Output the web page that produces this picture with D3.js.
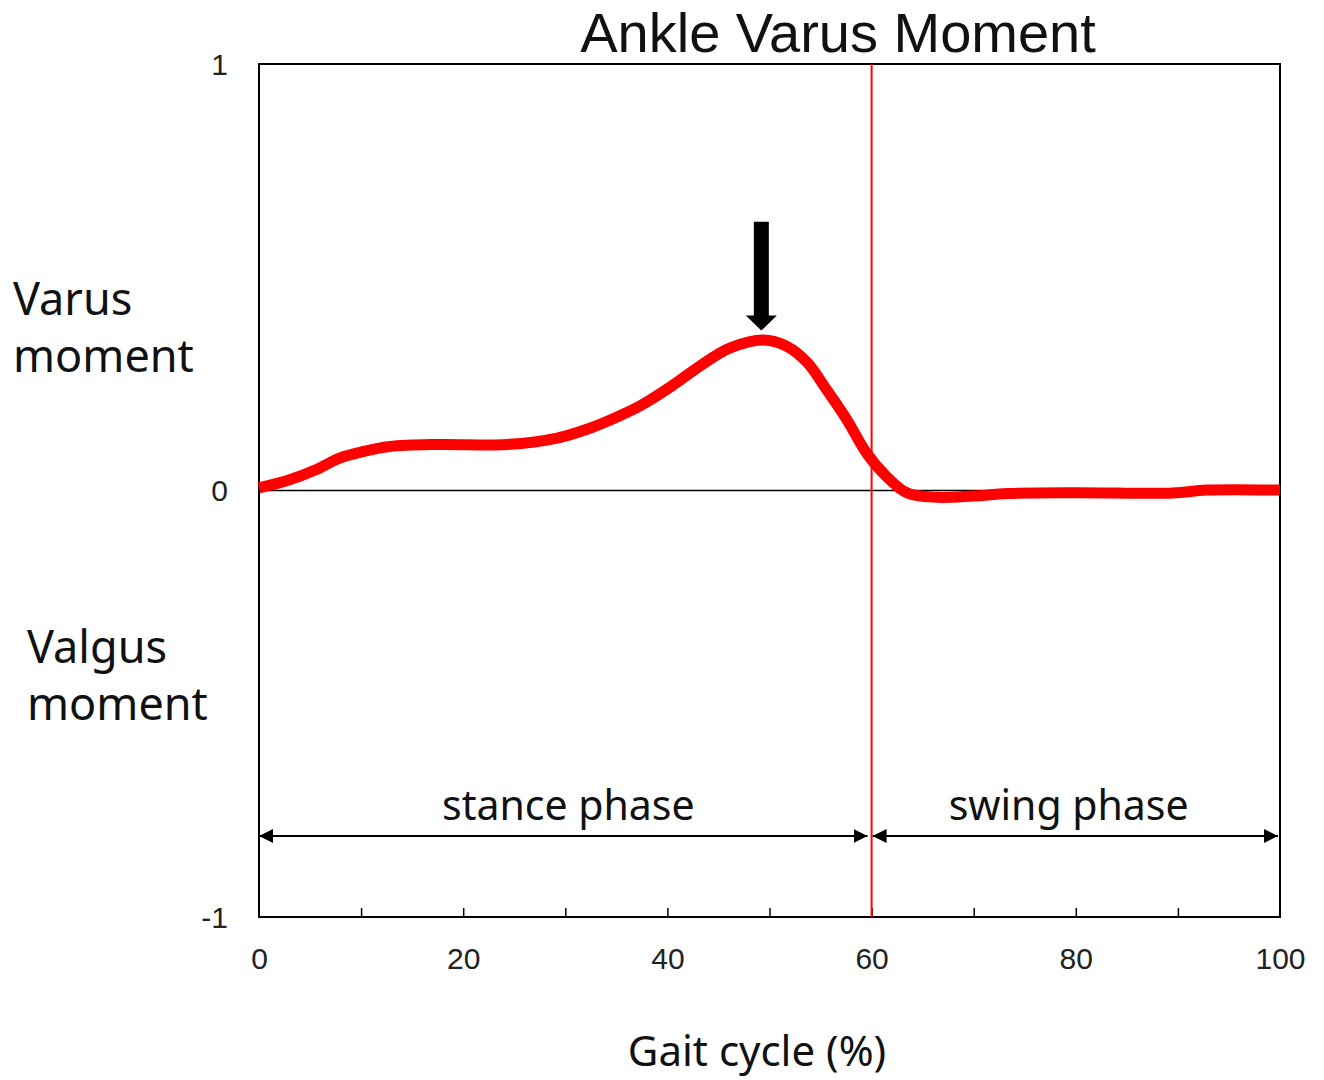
<!DOCTYPE html>
<html>
<head>
<meta charset="utf-8">
<script src="https://cdn.jsdelivr.net/npm/d3@7"></script>
<style>
  body { margin: 0; background: #fff; }
  svg { display: block; }
</style>
</head>
<body>
<div id="chart"></div>
<script>
// gait cycle (%) and ankle varus moment
var gaitPct = [0, 3, 5.5, 7.9, 10, 12.8, 17.7, 24.3, 29.2, 32.4, 35.4, 37.3, 40.3, 43.5, 46.1, 49.4, 51.7, 53.7, 55.6, 57.6, 59.5, 61.5, 63.5, 66.4, 69.9, 73.3, 80, 89.5, 92.8, 100];
var moment = [0.006, 0.025, 0.048, 0.076, 0.09, 0.103, 0.108, 0.108, 0.123, 0.146, 0.176, 0.198, 0.243, 0.297, 0.334, 0.353, 0.338, 0.3, 0.236, 0.165, 0.088, 0.032, -0.006, -0.016, -0.013, -0.007, -0.005, -0.006, 0.001, 0.001];

var xTickLabels = [0, 20, 40, 60, 80, 100];
var xMinorTicks = [10, 20, 30, 40, 50, 60, 70, 80, 90];
var yTickLabels = [-1, 0, 1];

var toeOff = 60;
var phases = ["stance phase", "swing phase"];
var phaseStart = [0, 60.1];
var phaseEnd = [59.6, 99.8];
var phaseLabelAt = [30.3, 79.3];
var phaseLevel = -0.81;

var peakPct = 49.2;
var peakArrowTop = 0.63;
var peakArrowTip = 0.375;

var width = 1324, height = 1080;
var margin = { top: 64, right: 44, bottom: 163, left: 259 };
var w = width - margin.left - margin.right,
  h = height - margin.top - margin.bottom;

var svg = d3.select("#chart").append("svg")
  .attr("width", width)
  .attr("height", height);

var g = svg.append("g")
  .attr("transform", "translate(" + margin.left + "," + margin.top + ")");

var x = d3.scaleLinear().domain([0, 100]).range([0, w]);
var y = d3.scaleLinear().domain([-1, 1]).range([h, 0]);

var tickFont = "'Liberation Sans', Arial, sans-serif";
var labelFont = "'Noto Sans', 'Noto Sans CJK KR', sans-serif";

// minor ticks pointing inwards
var gMinor = g.append("g")
  .attr("transform", "translate(0," + h + ")")
  .call(d3.axisBottom(x).tickValues(xMinorTicks).tickSizeInner(-9).tickSizeOuter(0).tickFormat(""));
gMinor.select(".domain").remove();
gMinor.selectAll("line").attr("stroke", "#000").attr("stroke-width", 1.5);

// x tick labels
var gx = g.append("g")
  .attr("transform", "translate(0," + h + ")")
  .call(d3.axisBottom(x).tickValues(xTickLabels).tickSize(0).tickPadding(31));
gx.select(".domain").remove();
gx.selectAll("text")
  .attr("font-family", tickFont)
  .attr("font-size", 30)
  .attr("fill", "#222");

// y tick labels
var gy = g.append("g")
  .call(d3.axisLeft(y).tickValues(yTickLabels).tickSize(0).tickPadding(31)
    .tickFormat(function (d) { return String(d); }));
gy.select(".domain").remove();
gy.selectAll("text")
  .attr("font-family", tickFont)
  .attr("font-size", 30)
  .attr("fill", "#222")
  .attr("dy", "0.34em");

// zero line
g.append("line")
  .attr("x1", 0).attr("x2", w)
  .attr("y1", y(0)).attr("y2", y(0))
  .attr("stroke", "#000").attr("stroke-width", 1.5);

// frame
g.append("rect")
  .attr("width", w).attr("height", h)
  .attr("fill", "none")
  .attr("stroke", "#000").attr("stroke-width", 2);

// toe-off line
g.append("line")
  .attr("x1", x(toeOff)).attr("x2", x(toeOff))
  .attr("y1", 0).attr("y2", h)
  .attr("stroke", "#ff0000").attr("stroke-width", 2);

// phase arrows
var defs = svg.append("defs");
defs.append("marker")
  .attr("id", "head")
  .attr("viewBox", "0 0 10 10")
  .attr("refX", 10).attr("refY", 5)
  .attr("markerWidth", 14).attr("markerHeight", 14)
  .attr("markerUnits", "userSpaceOnUse")
  .attr("orient", "auto-start-reverse")
  .append("path")
  .attr("d", "M0,0 L10,5 L0,10 Z")
  .attr("fill", "#000");

phases.forEach(function (name, i) {
  g.append("line")
    .attr("x1", x(phaseStart[i])).attr("x2", x(phaseEnd[i]))
    .attr("y1", y(phaseLevel)).attr("y2", y(phaseLevel))
    .attr("stroke", "#000").attr("stroke-width", 2)
    .attr("marker-start", "url(#head)")
    .attr("marker-end", "url(#head)");
  g.append("text")
    .attr("x", x(phaseLabelAt[i]))
    .attr("y", y(phaseLevel) - 16)
    .attr("text-anchor", "middle")
    .attr("font-family", labelFont)
    .attr("font-size", 41)
    .attr("fill", "#111")
    .text(name);
});

// moment curve
var data = gaitPct.map(function (p, i) {
  return { pct: p, value: moment[i] };
});
var line = d3.line()
  .x(function (d) { return x(d.pct); })
  .y(function (d) { return y(d.value); })
  .curve(d3.curveCatmullRom.alpha(0.5));

g.append("path")
  .datum(data)
  .attr("d", line)
  .attr("fill", "none")
  .attr("stroke", "#ff0000")
  .attr("stroke-width", 11)
  .attr("stroke-linejoin", "round")
  .attr("stroke-linecap", "butt");

// peak arrow
var ax = x(peakPct), aTop = y(peakArrowTop), aTip = y(peakArrowTip);
var shaft = 7.5, head = 15.5, headLen = 15;
g.append("path")
  .attr("d", "M" + (ax - shaft) + "," + aTop +
    "L" + (ax + shaft) + "," + aTop +
    "L" + (ax + shaft) + "," + (aTip - headLen) +
    "L" + (ax + head) + "," + (aTip - headLen) +
    "L" + ax + "," + aTip +
    "L" + (ax - head) + "," + (aTip - headLen) +
    "L" + (ax - shaft) + "," + (aTip - headLen) + "Z")
  .attr("fill", "#000");

// title
svg.append("text")
  .attr("x", 838).attr("y", 52)
  .attr("text-anchor", "middle")
  .attr("font-family", tickFont)
  .attr("font-size", 56)
  .attr("fill", "#111")
  .text("Ankle Varus Moment");

// side labels
var sideLabels = [
  { lines: ["Varus", "moment"], x: 13, y: 315 },
  { lines: ["Valgus", "moment"], x: 27, y: 663 }
];
sideLabels.forEach(function (s) {
  var t = svg.append("text")
    .attr("x", s.x).attr("y", s.y)
    .attr("font-family", labelFont)
    .attr("font-size", 45)
    .attr("fill", "#111");
  s.lines.forEach(function (l, i) {
    t.append("tspan").attr("x", s.x).attr("dy", i === 0 ? 0 : 57).text(l);
  });
});

// x axis title
svg.append("text")
  .attr("x", 757).attr("y", 1066)
  .attr("text-anchor", "middle")
  .attr("font-family", labelFont)
  .attr("font-size", 42)
  .attr("fill", "#111")
  .text("Gait cycle (%)");
</script>
</body>
</html>
